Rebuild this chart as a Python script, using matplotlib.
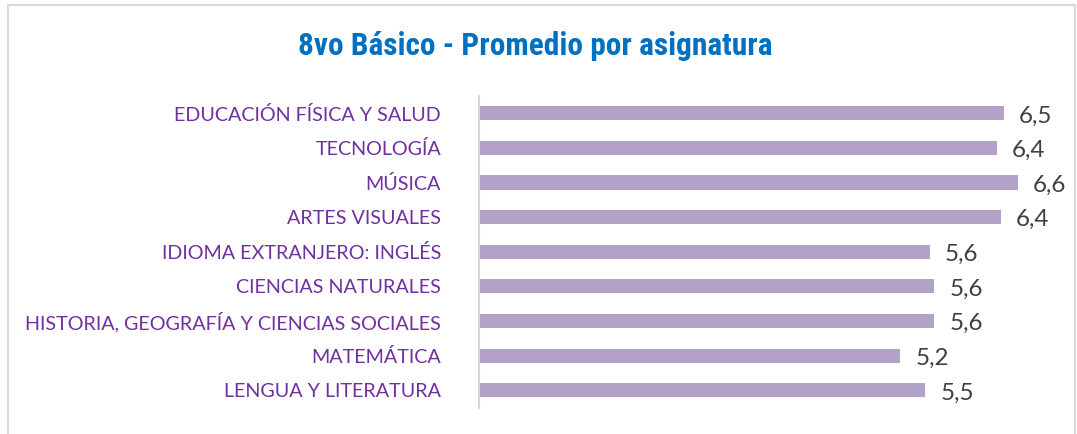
import matplotlib
matplotlib.use("Agg")
import matplotlib.pyplot as plt
from matplotlib import font_manager
from matplotlib.patches import Rectangle

# ---- data ----
categories = [
    "EDUCACIÓN FÍSICA Y SALUD",
    "TECNOLOGÍA",
    "MÚSICA",
    "ARTES VISUALES",
    "IDIOMA EXTRANJERO: INGLÉS",
    "CIENCIAS NATURALES",
    "HISTORIA, GEOGRAFÍA Y CIENCIAS SOCIALES",
    "MATEMÁTICA",
    "LENGUA Y LITERATURA",
]
values = [6.43, 6.34, 6.60, 6.39, 5.52, 5.58, 5.58, 5.16, 5.47]
value_labels = ["6,5", "6,4", "6,6", "6,4", "5,6", "5,6", "5,6", "5,2", "5,5"]
title = "8vo Básico - Promedio por asignatura"

# ---- fonts ----
available = {f.name for f in font_manager.fontManager.ttflist}
condensed = [n for n in ["Roboto Condensed", "Liberation Sans Narrow", "Arial Narrow"] if n in available]
if condensed:
    title_font, title_size = condensed[0], 22.6
else:
    title_font, title_size = "Roboto", 20.5
label_font = "Lato" if "Lato" in available else "DejaVu Sans"

W, H = 1077, 434
fig = plt.figure(figsize=(W / 100, H / 100), dpi=100)
fig.patch.set_facecolor("white")

# chart border
fig.patches.append(Rectangle((8 / W, -0.05), (1075 - 8) / W, 1 - 5 / H + 0.05,
                             transform=fig.transFigure, fill=False,
                             edgecolor="#D9D9D9", linewidth=1.5))

ax_left, ax_right = 478.5, 1050.5
ax_top, ax_bot = 95.8, 407.6
ax = fig.add_axes([ax_left / W, 1 - ax_bot / H, (ax_right - ax_left) / W, (ax_bot - ax_top) / H])

y = list(range(len(categories)))
ax.barh(y, values, height=0.41, color="#B3A2C7", edgecolor="none")
ax.set_ylim(len(categories) - 0.5, -0.5)
ax.set_xlim(0, 7)

for yi, v, lab in zip(y, values, value_labels):
    ax.annotate(lab, (v, yi), xytext=(11, -2), textcoords="offset points",
                ha="left", va="center", fontsize=17.5, color="#404040",
                family=label_font)

ax.set_yticks(y)
ax.set_yticklabels(categories, fontsize=14.2, color="#7030A0", family=label_font)
ax.tick_params(axis="y", length=0, pad=27)
ax.set_xticks([])
for s in ["top", "right", "bottom"]:
    ax.spines[s].set_visible(False)
ax.spines["left"].set_color("#D9D9D9")
ax.spines["left"].set_linewidth(1.5)
ax.set_facecolor("none")

fig.text(535 / W, 1 - 46 / H, title, ha="center", va="center",
         fontsize=title_size, fontweight="bold", color="#0070C0", family=title_font)

fig.savefig("out.png", dpi=100, facecolor="white")
